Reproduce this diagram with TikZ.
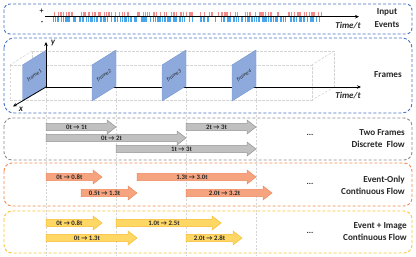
\documentclass[tikz,border=0pt]{standalone}
\usepackage{fontspec}
\setmainfont{Carlito}
\usetikzlibrary{arrows.meta}
\definecolor{boxblue}{HTML}{4472C4}
\definecolor{boxgray}{HTML}{8C8C8C}
\definecolor{boxorange}{HTML}{F08A50}
\definecolor{boxyellow}{HTML}{FFC22E}
\definecolor{guide}{HTML}{D4D4D4}
\definecolor{framefillc}{HTML}{8EAADC}
\definecolor{framedraw}{HTML}{7595CF}
\definecolor{evred}{HTML}{F28C8C}
\definecolor{evblue}{HTML}{4AA6EA}
\definecolor{grayfill}{HTML}{C0C0C0}
\definecolor{graydraw}{HTML}{969696}
\definecolor{orangefill}{HTML}{F5A47F}
\definecolor{orangedraw}{HTML}{EC8A5C}
\definecolor{yellowfill}{HTML}{FFD765}
\definecolor{yellowdraw}{HTML}{F7BC2F}
\definecolor{txt}{HTML}{262626}
\tikzset{
  groupbox/.style={dash pattern=on 3bp off 2bp, line width=0.9bp, rounded corners=#1},
  guideline/.style={guide, dash pattern=on 2bp off 1.5bp, line width=0.6bp},
  cubeline/.style={guide, dash pattern=on 2.5bp off 1.5bp, line width=0.6bp},
  axisline/.style={line width=0.8bp, -{Stealth[length=4bp,width=3.5bp]}},
  framebox/.style={fill=framefillc, draw=framedraw, line width=0.4bp},
  framelabel/.style={font=\fontsize{5.5}{6}\selectfont\itshape, text=txt, rotate=33, inner sep=0pt},
  flowtext/.style={font=\fontsize{6.8}{7}\selectfont\bfseries, text=txt, inner sep=0pt},
  grayarrow/.style={fill=grayfill, draw=graydraw, line width=0.5bp},
  orangearrow/.style={fill=orangefill, draw=orangedraw, line width=0.5bp},
  yellowarrow/.style={fill=yellowfill, draw=yellowdraw, line width=0.5bp},
  sidelabel/.style={font=\fontsize{9.2}{12}\selectfont\bfseries, text=txt, inner sep=0pt},
  timelabel/.style={font=\fontsize{9}{10}\selectfont\bfseries\itshape, text=txt, inner sep=0pt},
  signlabel/.style={font=\fontsize{8}{9}\selectfont\bfseries, text=txt, inner sep=0pt},
  dotslabel/.style={font=\fontsize{8.5}{10}\selectfont\bfseries, text=txt, inner sep=0pt},
}
% name, x1, x2, y, style, label
\newcommand\flowarrow[6]{%
  \draw[#5] (#2,#4-3.6) -- (#3-9,#4-3.6) -- (#3-9,#4-7) -- (#3,#4) -- (#3-9,#4+7) -- (#3-9,#4+3.6) -- (#2,#4+3.6) -- cycle;
  \node[flowtext] (#1) at ({(#2+#3-9)/2},#4) {#6};}
\begin{document}
\begin{tikzpicture}[x=1bp,y=-1bp]
\useasboundingbox (0,0) rectangle (416,257);

% group boxes
\draw[groupbox=6bp, boxblue] (4,4) rectangle (412,34);
\draw[groupbox=10bp, boxblue] (4,38) rectangle (412,113);
\draw[groupbox=8bp, boxgray] (4,118) rectangle (412,160);
\draw[groupbox=8bp, boxorange] (4,163) rectangle (412,206);
\draw[groupbox=8bp, boxyellow] (4,211) rectangle (412,253);

% guide lines
\foreach \gx in {46,116,186,256}{\draw[guideline] (\gx,87) -- (\gx,256);}

% input events
\pgfmathsetseed{7}
\foreach \i in {1,...,130}{\pgfmathsetmacro\xx{53+269*rnd}\draw[evred, line width=0.5bp] (\xx,12) -- (\xx,16.3);}
\foreach \i in {1,...,200}{\pgfmathsetmacro\xx{53+267*rnd}\draw[evblue, line width=0.5bp] (\xx,17.2) -- (\xx,22);}
\coordinate (ev0) at (45,16.7);
\coordinate (ev1) at (359,16.7);
\draw[axisline] (ev0) -- (ev1);
\node[signlabel] (plus) at (41.5,11.5) {+};
\node[signlabel] (minus) at (42,23) {-};
\node[timelabel] (t1) at (348,26) {Time/t};
\node[sidelabel, align=center, font=\fontsize{9.2}{13}\selectfont\bfseries] (inev) at (387,18.5) {Input\\Events};

% frames: dashed cube
\draw[cubeline] (32,51) -- (334,51) -- (334,87);
\draw[cubeline] (10,65) -- (312,65) -- (312,100) -- (10,100) -- cycle;
\draw[cubeline] (32,51) -- (10,65);
\draw[cubeline] (334,51) -- (312,65);
\draw[cubeline] (334,87) -- (312,100);
\draw[cubeline] (32,51) -- (32,87) -- (46,87);

% time axis
\coordinate (o) at (46,87);
\coordinate (tend) at (361,87);
\draw[axisline] (o) -- (tend);

% frames
\foreach \k/\xr in {1/46.5,2/116,3/186,4/256}{
  \draw[framebox] (\xr-24,65) -- (\xr,50) -- (\xr,86) -- (\xr-24,101) -- cycle;
  \node[framelabel] (f\k) at (\xr-12,75.5) {frame\k};
}
\coordinate (ytop) at (46,42);
\coordinate (xend) at (13,106.5);
\draw[axisline] (o) -- (ytop);
\draw[axisline] (o) -- (xend);
\node[timelabel] (ylab) at (53,43) {y};
\node[timelabel] (xlab) at (21,109.5) {x};
\node[timelabel] (t2) at (348,96) {Time/t};
\node[sidelabel] (frl) at (388,75) {Frames};

% two frames discrete flow
\flowarrow{g1}{46}{116}{127}{grayarrow}{0t → 1t}
\flowarrow{g2}{186}{256}{127}{grayarrow}{2t → 3t}
\flowarrow{g3}{46}{186}{138}{grayarrow}{0t → 2t}
\flowarrow{g4}{116}{256}{149}{grayarrow}{1t → 3t}
\node[dotslabel] (d1) at (310,135) {...};
\node[sidelabel, align=right, anchor=east] (l3) at (405,139) {Two Frames\\Discrete \ Flow};

% event-only continuous flow
\flowarrow{o1}{46}{102}{177}{orangearrow}{0t → 0.8t}
\flowarrow{o2}{137}{256}{177}{orangearrow}{1.3t → 3.0t}
\flowarrow{o3}{81}{137}{193}{orangearrow}{0.5t → 1.3t}
\flowarrow{o4}{186}{272}{193}{orangearrow}{2.0t → 3.2t}
\node[dotslabel] (d2) at (310,184) {...};
\node[sidelabel, align=right, anchor=east] (l4) at (405,185.5) {Event-Only\\Continuous Flow};

% event + image continuous flow
\flowarrow{y1}{46}{102}{223}{yellowarrow}{0t → 0.8t}
\flowarrow{y2}{116}{221}{223}{yellowarrow}{1.0t → 2.5t}
\flowarrow{y3}{46}{137}{238}{yellowarrow}{0t → 1.3t}
\flowarrow{y4}{186}{242}{238}{yellowarrow}{2.0t → 2.8t}
\node[dotslabel] (d3) at (310,233) {...};
\node[sidelabel, align=right, anchor=east] (l5) at (407,232) {Event + Image\\Continuous Flow};
\end{tikzpicture}
\end{document}
